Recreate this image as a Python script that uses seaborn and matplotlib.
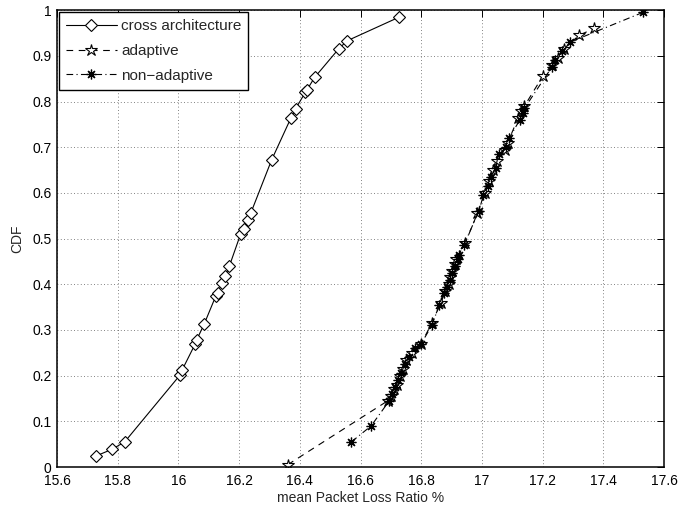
import matplotlib
matplotlib.use('Agg')
import matplotlib.pyplot as plt
import seaborn as sns
import pandas as pd

# cross architecture (diamonds)
cross_x = [15.728, 15.782, 15.823, 16.005, 16.012, 16.055, 16.06, 16.085, 16.123, 16.129,
           16.144, 16.155, 16.168, 16.205, 16.215, 16.228, 16.238, 16.307, 16.37, 16.386,
           16.418, 16.424, 16.449, 16.529, 16.556, 16.728]
cross_y = [0.024, 0.039, 0.055, 0.201, 0.212, 0.269, 0.278, 0.313, 0.374, 0.381,
           0.403, 0.419, 0.44, 0.51, 0.52, 0.54, 0.555, 0.672, 0.763, 0.784,
           0.82, 0.826, 0.853, 0.916, 0.933, 0.985]

# adaptive (pentagrams)
adapt_x = [16.36, 16.69, 16.70, 16.71, 16.72, 16.73, 16.74, 16.75, 16.77, 16.80,
           16.835, 16.865, 16.88, 16.89, 16.895, 16.90, 16.91, 16.915, 16.945, 16.985,
           17.01, 17.025, 17.035, 17.05, 17.075, 17.085, 17.12, 17.13, 17.14, 17.20,
           17.23, 17.25, 17.27, 17.32, 17.37]
adapt_y = [0.005, 0.145, 0.155, 0.17, 0.18, 0.20, 0.215, 0.235, 0.25, 0.27,
           0.315, 0.36, 0.385, 0.40, 0.415, 0.43, 0.445, 0.455, 0.49, 0.555,
           0.60, 0.625, 0.65, 0.67, 0.695, 0.71, 0.765, 0.78, 0.79, 0.855,
           0.88, 0.895, 0.915, 0.945, 0.96]

# non-adaptive (asterisks)
nonad_x = [16.57, 16.635, 16.695, 16.705, 16.715, 16.725, 16.735, 16.745, 16.76, 16.78,
           16.80, 16.835, 16.86, 16.875, 16.885, 16.895, 16.90, 16.91, 16.92, 16.925,
           16.94, 16.99, 17.005, 17.02, 17.03, 17.045, 17.055, 17.08, 17.09, 17.125,
           17.135, 17.14, 17.23, 17.24, 17.265, 17.29, 17.53]
nonad_y = [0.055, 0.09, 0.145, 0.16, 0.175, 0.19, 0.205, 0.225, 0.24, 0.26,
           0.27, 0.31, 0.355, 0.38, 0.395, 0.41, 0.425, 0.44, 0.455, 0.465,
           0.485, 0.56, 0.595, 0.615, 0.635, 0.655, 0.685, 0.70, 0.72, 0.76,
           0.775, 0.785, 0.875, 0.89, 0.91, 0.93, 0.995]

xticks = [15.6, 15.8, 16.0, 16.2, 16.4, 16.6, 16.8, 17.0, 17.2, 17.4, 17.6]
xtick_labels = ['15.6', '15.8', '16', '16.2', '16.4', '16.6', '16.8', '17', '17.2', '17.4', '17.6']
yticks = [0, 0.1, 0.2, 0.3, 0.4, 0.5, 0.6, 0.7, 0.8, 0.9, 1.0]
ytick_labels = ['0', '0.1', '0.2', '0.3', '0.4', '0.5', '0.6', '0.7', '0.8', '0.9', '1']

sns.set_style('white')
plt.rcParams['font.family'] = ['Liberation Sans', 'DejaVu Sans']

fig = plt.figure(figsize=(6.82, 5.09), dpi=100)
ax = fig.add_axes([0.0836, 0.0825, 0.8900, 0.8975])

cross = pd.DataFrame({'x': cross_x, 'y': cross_y})
adapt = pd.DataFrame({'x': adapt_x, 'y': adapt_y})
nonad = pd.DataFrame({'x': nonad_x, 'y': nonad_y})

sns.lineplot(data=cross, x='x', y='y', sort=False, estimator=None, ax=ax,
             color='black', linewidth=0.8, marker='D', markersize=6,
             markerfacecolor='white', markeredgecolor='black', markeredgewidth=0.8,
             label='cross architecture')
sns.lineplot(data=adapt, x='x', y='y', sort=False, estimator=None, ax=ax,
             color='black', linewidth=0.8, linestyle=(0, (6, 5)), marker='*', markersize=9,
             markerfacecolor='white', markeredgecolor='black', markeredgewidth=0.8,
             label='adaptive')
sns.lineplot(data=nonad, x='x', y='y', sort=False, estimator=None, ax=ax,
             color='black', linewidth=0.8, linestyle=(0, (6, 3, 1, 3)), marker=(8, 2, 0),
             markersize=7, markeredgecolor='black', markeredgewidth=0.9,
             label='non\u2212adaptive')

ax.set_xlim(15.6, 17.6)
ax.set_ylim(0, 1)
ax.set_xticks(xticks)
ax.set_xticklabels(xtick_labels)
ax.set_yticks(yticks)
ax.set_yticklabels(ytick_labels)
ax.tick_params(direction='in', top=True, right=True, length=5, width=0.7,
               labelsize=10, colors='black')
ax.tick_params(axis='x', pad=5)
ax.tick_params(axis='y', pad=4)
ax.grid(True, linestyle=(0, (1, 3)), color='0.35', linewidth=0.6)
for s in ax.spines.values():
    s.set_color('black')
    s.set_linewidth(1.1)

ax.set_xlabel('mean Packet Loss Ratio %', fontsize=10, labelpad=2)
ax.set_ylabel('CDF', fontsize=10, labelpad=6)

leg = ax.legend(loc='upper left', fontsize=11, frameon=True, fancybox=False,
                edgecolor='black', borderaxespad=0.15, handlelength=3.3,
                handletextpad=0.3, labelspacing=0.7, borderpad=0.45)
leg.get_frame().set_linewidth(1.0)
leg.get_frame().set_alpha(1)

fig.savefig('out.png', dpi=100)
